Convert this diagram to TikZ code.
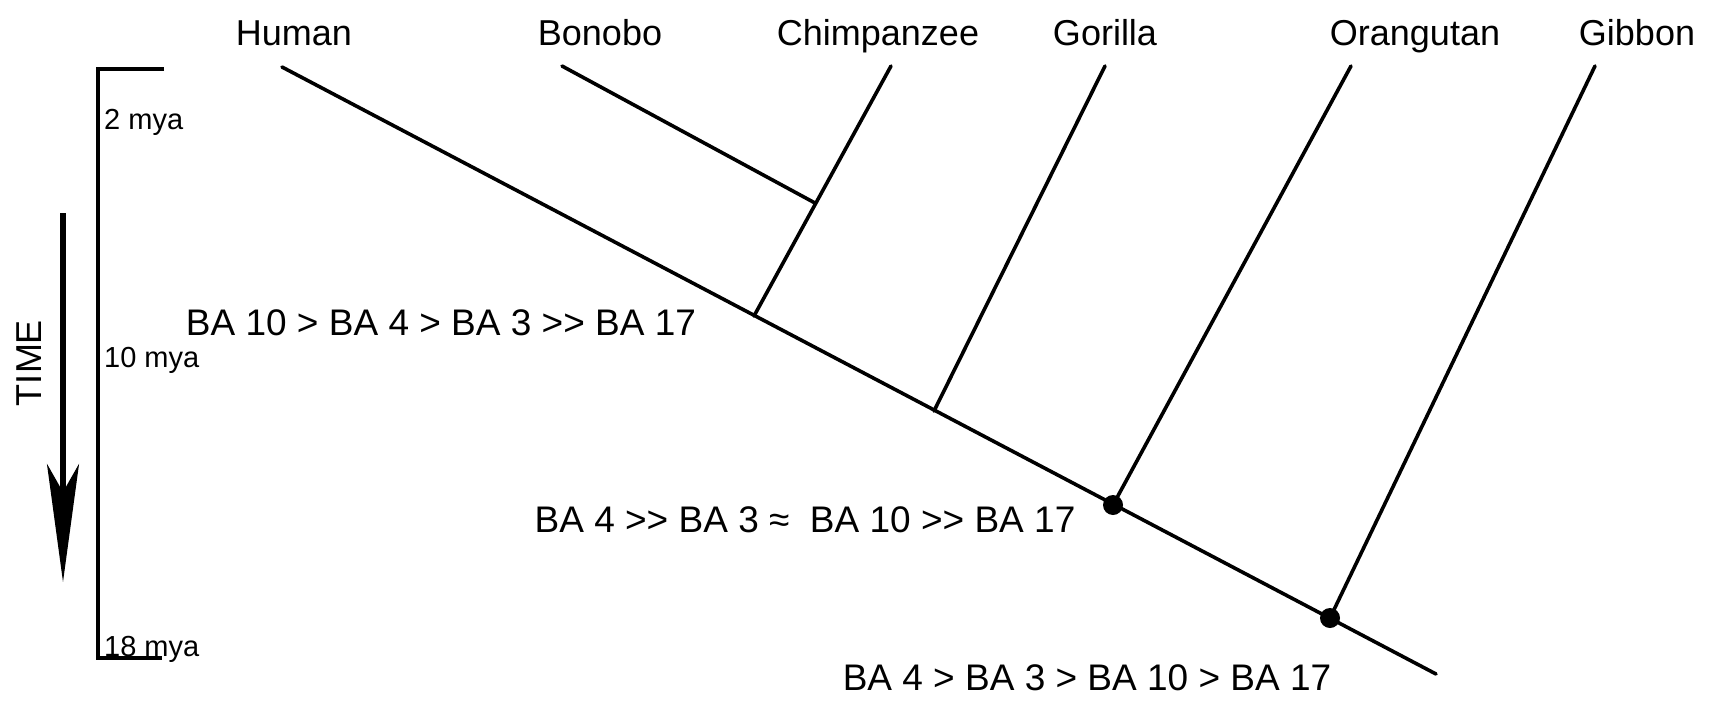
\documentclass[tikz,border=0pt]{standalone}
\usepackage{fontspec}
\setmainfont{Liberation Sans}
\usetikzlibrary{arrows.meta}

\tikzset{
  branch/.style={line width=3.6pt, line cap=round},
  axisline/.style={line width=3.2pt},
  taxon/.style={font=\fontsize{36}{40}\selectfont, inner sep=0pt, anchor=base},
  order/.style={font=\fontsize{37}{42}\selectfont, inner sep=0pt, anchor=base},
  age/.style={font=\fontsize{29}{33}\selectfont, inner sep=0pt, anchor=base west},
  node dot/.style={circle, fill=black, inner sep=0pt, minimum size=20pt},
}

\begin{document}
\begin{tikzpicture}[x=1pt, y=-1pt]
  \useasboundingbox (0,0) rectangle (1719,707);

  % taxon names
  \node[taxon] (human) at (294,45) {Human};
  \node[taxon] (bonobo) at (600,45) {Bonobo};
  \node[taxon] (chimp) at (878,45) {Chimpanzee};
  \node[taxon] (gorilla) at (1105,45) {Gorilla};
  \node[taxon] (orang) at (1415,45) {Orangutan};
  \node[taxon] (gibbon) at (1637,45) {Gibbon};

  % tips and branch points of the tree
  \coordinate (tHuman) at (282,67);
  \coordinate (tBonobo) at (562,66);
  \coordinate (tChimp) at (891,66);
  \coordinate (tGorilla) at (1105,66);
  \coordinate (tOrang) at (1351,66);
  \coordinate (tGibbon) at (1595,66);
  \coordinate (root) at (1436,674);
  \coordinate (jPan) at (815,203);
  \coordinate (jChimp) at (754,316);
  \coordinate (jGorilla) at (934,411);
  \node[node dot] (jOrang) at (1113,505) {};
  \node[node dot] (jGibbon) at (1330,618) {};

  % human lineage down to the root
  \draw[branch] (tHuman) -- (root);
  % side branches
  \draw[branch] (tBonobo) -- (jPan);
  \draw[branch] (tChimp) -- (jChimp);
  \draw[branch] (tGorilla) -- (jGorilla);
  \draw[branch] (tOrang) -- (jOrang.center);
  \draw[branch] (tGibbon) -- (jGibbon.center);

  % area orderings at the nodes
  \node[order] (ordA) at (441,335) {BA 10 > BA 4 > BA 3 >{}> BA 17};
  \node[order] (ordB) at (805,532) {BA 4 >{}> BA 3 ≈ \ BA 10 >{}> BA 17};
  \node[order] (ordC) at (1087,690) {BA 4 > BA 3 > BA 10 > BA 17};

  % time scale
  \coordinate (axTopTick) at (164,69);
  \coordinate (axTop) at (98,69);
  \coordinate (axBot) at (98,658);
  \coordinate (axBotTick) at (162,658);
  \draw[axisline] (axTopTick) -- (axTop) -- (axBot) -- (axBotTick);
  \node[age] (m2) at (104,129) {2 mya};
  \node[age] (m10) at (104,367) {10 mya};
  \node[age] (m18) at (104,656) {18 mya};

  % time arrow
  \coordinate (arrTop) at (63,213);
  \coordinate (arrTip) at (63,582);
  \draw[line width=5.5pt, -{Stealth[length=118pt, width=32pt, inset=28pt]}] (arrTop) -- (arrTip);
  \node[font=\fontsize{36}{40}\selectfont, inner sep=0pt, rotate=90] (time) at (29,363) {TIME};
\end{tikzpicture}
\end{document}
